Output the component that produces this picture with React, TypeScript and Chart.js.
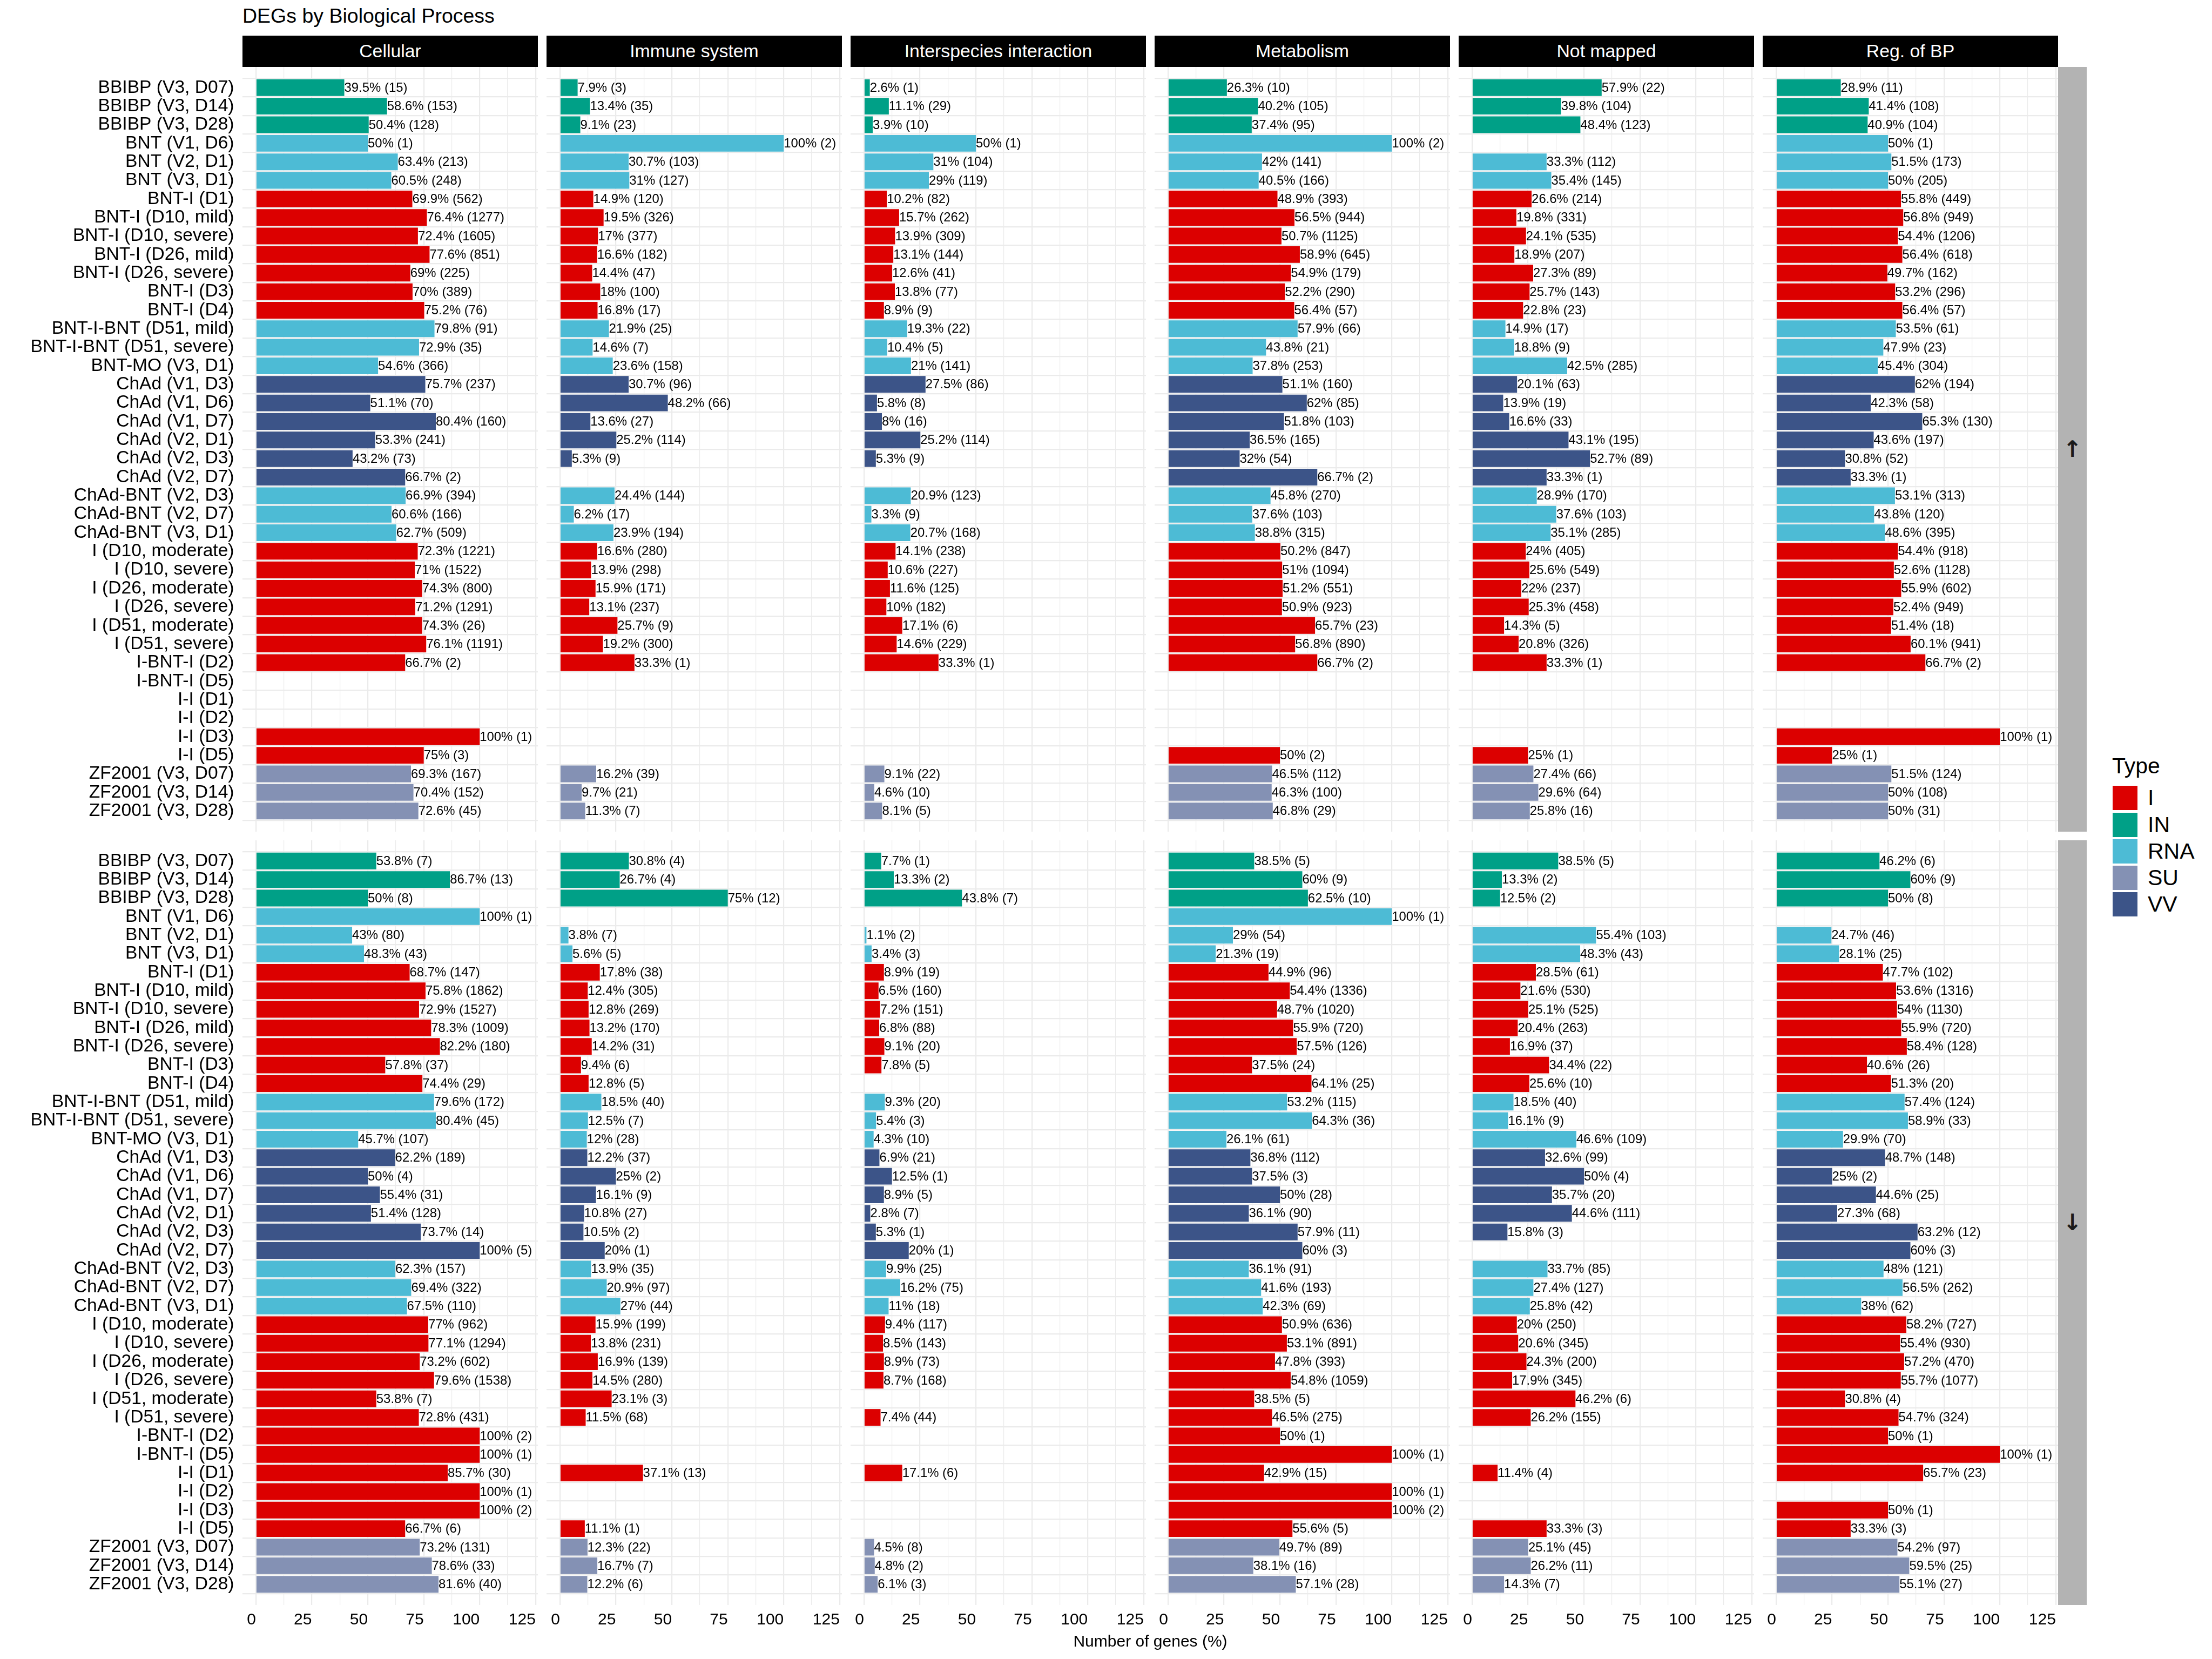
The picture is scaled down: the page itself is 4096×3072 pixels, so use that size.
import React, { useEffect, useRef } from "react";
import { Chart, registerables } from "chart.js";

Chart.register(...registerables);

const _ = null;

const categories = [
  "BBIBP (V3, D07)", "BBIBP (V3, D14)", "BBIBP (V3, D28)", "BNT (V1, D6)", "BNT (V2, D1)", "BNT (V3, D1)",
  "BNT-I (D1)", "BNT-I (D10, mild)", "BNT-I (D10, severe)", "BNT-I (D26, mild)", "BNT-I (D26, severe)",
  "BNT-I (D3)", "BNT-I (D4)", "BNT-I-BNT (D51, mild)", "BNT-I-BNT (D51, severe)", "BNT-MO (V3, D1)",
  "ChAd (V1, D3)", "ChAd (V1, D6)", "ChAd (V1, D7)", "ChAd (V2, D1)", "ChAd (V2, D3)", "ChAd (V2, D7)",
  "ChAd-BNT (V2, D3)", "ChAd-BNT (V2, D7)", "ChAd-BNT (V3, D1)", "I (D10, moderate)", "I (D10, severe)",
  "I (D26, moderate)", "I (D26, severe)", "I (D51, moderate)", "I (D51, severe)", "I-BNT-I (D2)",
  "I-BNT-I (D5)", "I-I (D1)", "I-I (D2)", "I-I (D3)", "I-I (D5)", "ZF2001 (V3, D07)", "ZF2001 (V3, D14)",
  "ZF2001 (V3, D28)",
];

const vaccineTypes = [
  "IN", "IN", "IN", "RNA", "RNA", "RNA",
  "I", "I", "I", "I", "I", "I", "I",
  "RNA", "RNA", "RNA",
  "VV", "VV", "VV", "VV", "VV", "VV",
  "RNA", "RNA", "RNA",
  "I", "I", "I", "I", "I", "I", "I", "I", "I", "I", "I", "I",
  "SU", "SU", "SU",
];

const typeNames = ["I", "IN", "RNA", "SU", "VV"];
const typeColors = ["#DC0000", "#00A087", "#4DBBD5", "#8491B4", "#3C5488"];

const processes = ["Cellular", "Immune system", "Interspecies interaction", "Metabolism", "Not mapped", "Reg. of BP"];
const directions = ["\u2191", "\u2193"];

const xTickValues = [0, 25, 50, 75, 100, 125];

// ---------- Up-regulated (↑) ----------
const upCellularPct = [39.5, 58.6, 50.4, 50, 63.4, 60.5, 69.9, 76.4, 72.4, 77.6, 69, 70, 75.2, 79.8, 72.9, 54.6, 75.7, 51.1, 80.4, 53.3, 43.2, 66.7, 66.9, 60.6, 62.7, 72.3, 71, 74.3, 71.2, 74.3, 76.1, 66.7, _, _, _, 100, 75, 69.3, 70.4, 72.6];
const upCellularN = [15, 153, 128, 1, 213, 248, 562, 1277, 1605, 851, 225, 389, 76, 91, 35, 366, 237, 70, 160, 241, 73, 2, 394, 166, 509, 1221, 1522, 800, 1291, 26, 1191, 2, _, _, _, 1, 3, 167, 152, 45];

const upImmunePct = [7.9, 13.4, 9.1, 100, 30.7, 31, 14.9, 19.5, 17, 16.6, 14.4, 18, 16.8, 21.9, 14.6, 23.6, 30.7, 48.2, 13.6, 25.2, 5.3, _, 24.4, 6.2, 23.9, 16.6, 13.9, 15.9, 13.1, 25.7, 19.2, 33.3, _, _, _, _, _, 16.2, 9.7, 11.3];
const upImmuneN = [3, 35, 23, 2, 103, 127, 120, 326, 377, 182, 47, 100, 17, 25, 7, 158, 96, 66, 27, 114, 9, _, 144, 17, 194, 280, 298, 171, 237, 9, 300, 1, _, _, _, _, _, 39, 21, 7];

const upInterPct = [2.6, 11.1, 3.9, 50, 31, 29, 10.2, 15.7, 13.9, 13.1, 12.6, 13.8, 8.9, 19.3, 10.4, 21, 27.5, 5.8, 8, 25.2, 5.3, _, 20.9, 3.3, 20.7, 14.1, 10.6, 11.6, 10, 17.1, 14.6, 33.3, _, _, _, _, _, 9.1, 4.6, 8.1];
const upInterN = [1, 29, 10, 1, 104, 119, 82, 262, 309, 144, 41, 77, 9, 22, 5, 141, 86, 8, 16, 114, 9, _, 123, 9, 168, 238, 227, 125, 182, 6, 229, 1, _, _, _, _, _, 22, 10, 5];

const upMetabPct = [26.3, 40.2, 37.4, 100, 42, 40.5, 48.9, 56.5, 50.7, 58.9, 54.9, 52.2, 56.4, 57.9, 43.8, 37.8, 51.1, 62, 51.8, 36.5, 32, 66.7, 45.8, 37.6, 38.8, 50.2, 51, 51.2, 50.9, 65.7, 56.8, 66.7, _, _, _, _, 50, 46.5, 46.3, 46.8];
const upMetabN = [10, 105, 95, 2, 141, 166, 393, 944, 1125, 645, 179, 290, 57, 66, 21, 253, 160, 85, 103, 165, 54, 2, 270, 103, 315, 847, 1094, 551, 923, 23, 890, 2, _, _, _, _, 2, 112, 100, 29];

const upNotMappedPct = [57.9, 39.8, 48.4, _, 33.3, 35.4, 26.6, 19.8, 24.1, 18.9, 27.3, 25.7, 22.8, 14.9, 18.8, 42.5, 20.1, 13.9, 16.6, 43.1, 52.7, 33.3, 28.9, 37.6, 35.1, 24, 25.6, 22, 25.3, 14.3, 20.8, 33.3, _, _, _, _, 25, 27.4, 29.6, 25.8];
const upNotMappedN = [22, 104, 123, _, 112, 145, 214, 331, 535, 207, 89, 143, 23, 17, 9, 285, 63, 19, 33, 195, 89, 1, 170, 103, 285, 405, 549, 237, 458, 5, 326, 1, _, _, _, _, 1, 66, 64, 16];

const upRegPct = [28.9, 41.4, 40.9, 50, 51.5, 50, 55.8, 56.8, 54.4, 56.4, 49.7, 53.2, 56.4, 53.5, 47.9, 45.4, 62, 42.3, 65.3, 43.6, 30.8, 33.3, 53.1, 43.8, 48.6, 54.4, 52.6, 55.9, 52.4, 51.4, 60.1, 66.7, _, _, _, 100, 25, 51.5, 50, 50];
const upRegN = [11, 108, 104, 1, 173, 205, 449, 949, 1206, 618, 162, 296, 57, 61, 23, 304, 194, 58, 130, 197, 52, 1, 313, 120, 395, 918, 1128, 602, 949, 18, 941, 2, _, _, _, 1, 1, 124, 108, 31];

// ---------- Down-regulated (↓) ----------
const downCellularPct = [53.8, 86.7, 50, 100, 43, 48.3, 68.7, 75.8, 72.9, 78.3, 82.2, 57.8, 74.4, 79.6, 80.4, 45.7, 62.2, 50, 55.4, 51.4, 73.7, 100, 62.3, 69.4, 67.5, 77, 77.1, 73.2, 79.6, 53.8, 72.8, 100, 100, 85.7, 100, 100, 66.7, 73.2, 78.6, 81.6];
const downCellularN = [7, 13, 8, 1, 80, 43, 147, 1862, 1527, 1009, 180, 37, 29, 172, 45, 107, 189, 4, 31, 128, 14, 5, 157, 322, 110, 962, 1294, 602, 1538, 7, 431, 2, 1, 30, 1, 2, 6, 131, 33, 40];

const downImmunePct = [30.8, 26.7, 75, _, 3.8, 5.6, 17.8, 12.4, 12.8, 13.2, 14.2, 9.4, 12.8, 18.5, 12.5, 12, 12.2, 25, 16.1, 10.8, 10.5, 20, 13.9, 20.9, 27, 15.9, 13.8, 16.9, 14.5, 23.1, 11.5, _, _, 37.1, _, _, 11.1, 12.3, 16.7, 12.2];
const downImmuneN = [4, 4, 12, _, 7, 5, 38, 305, 269, 170, 31, 6, 5, 40, 7, 28, 37, 2, 9, 27, 2, 1, 35, 97, 44, 199, 231, 139, 280, 3, 68, _, _, 13, _, _, 1, 22, 7, 6];

const downInterPct = [7.7, 13.3, 43.8, _, 1.1, 3.4, 8.9, 6.5, 7.2, 6.8, 9.1, 7.8, _, 9.3, 5.4, 4.3, 6.9, 12.5, 8.9, 2.8, 5.3, 20, 9.9, 16.2, 11, 9.4, 8.5, 8.9, 8.7, _, 7.4, _, _, 17.1, _, _, _, 4.5, 4.8, 6.1];
const downInterN = [1, 2, 7, _, 2, 3, 19, 160, 151, 88, 20, 5, _, 20, 3, 10, 21, 1, 5, 7, 1, 1, 25, 75, 18, 117, 143, 73, 168, _, 44, _, _, 6, _, _, _, 8, 2, 3];

const downMetabPct = [38.5, 60, 62.5, 100, 29, 21.3, 44.9, 54.4, 48.7, 55.9, 57.5, 37.5, 64.1, 53.2, 64.3, 26.1, 36.8, 37.5, 50, 36.1, 57.9, 60, 36.1, 41.6, 42.3, 50.9, 53.1, 47.8, 54.8, 38.5, 46.5, 50, 100, 42.9, 100, 100, 55.6, 49.7, 38.1, 57.1];
const downMetabN = [5, 9, 10, 1, 54, 19, 96, 1336, 1020, 720, 126, 24, 25, 115, 36, 61, 112, 3, 28, 90, 11, 3, 91, 193, 69, 636, 891, 393, 1059, 5, 275, 1, 1, 15, 1, 2, 5, 89, 16, 28];

const downNotMappedPct = [38.5, 13.3, 12.5, _, 55.4, 48.3, 28.5, 21.6, 25.1, 20.4, 16.9, 34.4, 25.6, 18.5, 16.1, 46.6, 32.6, 50, 35.7, 44.6, 15.8, _, 33.7, 27.4, 25.8, 20, 20.6, 24.3, 17.9, 46.2, 26.2, _, _, 11.4, _, _, 33.3, 25.1, 26.2, 14.3];
const downNotMappedN = [5, 2, 2, _, 103, 43, 61, 530, 525, 263, 37, 22, 10, 40, 9, 109, 99, 4, 20, 111, 3, _, 85, 127, 42, 250, 345, 200, 345, 6, 155, _, _, 4, _, _, 3, 45, 11, 7];

const downRegPct = [46.2, 60, 50, _, 24.7, 28.1, 47.7, 53.6, 54, 55.9, 58.4, 40.6, 51.3, 57.4, 58.9, 29.9, 48.7, 25, 44.6, 27.3, 63.2, 60, 48, 56.5, 38, 58.2, 55.4, 57.2, 55.7, 30.8, 54.7, 50, 100, 65.7, _, 50, 33.3, 54.2, 59.5, 55.1];
const downRegN = [6, 9, 8, _, 46, 25, 102, 1316, 1130, 720, 128, 26, 20, 124, 33, 70, 148, 2, 25, 68, 12, 3, 121, 262, 62, 727, 930, 470, 1077, 4, 324, 1, 1, 23, _, 1, 3, 97, 25, 27];

const PCT = [
  [upCellularPct, upImmunePct, upInterPct, upMetabPct, upNotMappedPct, upRegPct],
  [downCellularPct, downImmunePct, downInterPct, downMetabPct, downNotMappedPct, downRegPct],
];
const CNT = [
  [upCellularN, upImmuneN, upInterN, upMetabN, upNotMappedN, upRegN],
  [downCellularN, downImmuneN, downInterN, downMetabN, downNotMappedN, downRegN],
];

// ---------- layout (px in the 4096x3072 window) ----------
const FONT = '"Liberation Sans", Arial, Helvetica, sans-serif';
const PANEL_X = [449, 1012, 1575, 2138, 2701, 3264];
const PANEL_W = 547;
const ROW_Y = [124, 1556];
const PANEL_H = 1416;
const STRIP_TOP = 66;
const STRIP_H = 58;
const SIDE_X = 3811;
const SIDE_W = 53;
const XAXIS_H = 64;
const GRID = "#EBEBEB";

const FS_TITLE = 37.5;
const FS_STRIP = 33.8;
const FS_YLAB = 33.6;
const FS_XTICK = 30;
const FS_XTITLE = 30;
const FS_BAR = 23.9;
const FS_LEGEND = 41;

Chart.defaults.font.family = FONT;
Chart.defaults.color = "#000";

function PanelChart({ row, col }: { row: number; col: number }) {
  const ref = useRef<HTMLCanvasElement | null>(null);
  const isLeft = col === 0;
  const isBottom = row === 1;
  const left = isLeft ? 0 : PANEL_X[col];
  const width = isLeft ? PANEL_X[0] + PANEL_W : PANEL_W;
  const height = PANEL_H + (isBottom ? XAXIS_H : 0);

  useEffect(() => {
    const pct = PCT[row][col];
    const cnt = CNT[row][col];
    const pts: { x: number; y: number }[] = [];
    const colors: string[] = [];
    const labels: string[] = [];
    categories.forEach((_c, i) => {
      const v = pct[i];
      if (v === null || v === undefined) return;
      pts.push({ x: v as number, y: i });
      colors.push(typeColors[typeNames.indexOf(vaccineTypes[i])]);
      labels.push(`${v}% (${cnt[i]})`);
    });

    const barLabels = {
      id: "barLabels",
      afterDatasetsDraw(chart: any) {
        const ctx = chart.ctx;
        const meta = chart.getDatasetMeta(0);
        ctx.save();
        ctx.font = `${FS_BAR}px ${FONT}`;
        ctx.fillStyle = "#000";
        ctx.textAlign = "left";
        ctx.textBaseline = "middle";
        meta.data.forEach((el: any, i: number) => {
          ctx.fillText(labels[i], el.x, el.y + 1);
        });
        ctx.restore();
      },
    };

    const chart = new Chart(ref.current as HTMLCanvasElement, {
      type: "bar",
      data: {
        datasets: [
          {
            data: pts as any,
            backgroundColor: colors,
            borderWidth: 0,
            barPercentage: 0.9,
            categoryPercentage: 1,
          },
        ],
      },
      options: {
        indexAxis: "y",
        responsive: false,
        maintainAspectRatio: false,
        animation: false,
        events: [],
        layout: { padding: 0 },
        plugins: {
          legend: { display: false },
          tooltip: { enabled: false },
          title: { display: false },
        },
        scales: {
          x: {
            type: "linear",
            position: "bottom",
            min: -6,
            max: 126,
            bounds: "ticks",
            border: { display: false },
            grid: {
              color: GRID,
              drawTicks: false,
              lineWidth: (ctx: any) =>
                ctx.tick && xTickValues.includes(ctx.tick.value) ? 2.2 : 1.2,
            },
            ticks: {
              display: isBottom,
              stepSize: 12.5,
              autoSkip: false,
              includeBounds: false,
              maxRotation: 0,
              minRotation: 0,
              align: "end",
              padding: 10,
              color: "#000",
              font: { size: FS_XTICK, family: FONT },
              callback: (v: any) => (xTickValues.includes(Number(v)) ? String(v) : ""),
            },
            afterFit: (s: any) => {
              s.height = isBottom ? XAXIS_H : 0;
              s.paddingLeft = 0;
              s.paddingRight = 0;
            },
          },
          y: {
            type: "linear",
            position: "left",
            min: -0.6,
            max: 39.6,
            reverse: true,
            border: { display: false },
            grid: { color: GRID, drawTicks: false, lineWidth: 2.2 },
            ticks: {
              display: isLeft,
              stepSize: 1,
              autoSkip: false,
              includeBounds: false,
              padding: 15.5,
              color: "#000",
              font: { size: FS_YLAB, family: FONT },
              callback: (v: any) => {
                const i = Number(v);
                return Number.isInteger(i) && categories[i] !== undefined ? categories[i] : "";
              },
            },
            afterFit: (s: any) => {
              s.width = isLeft ? PANEL_X[0] : 0;
              s.paddingTop = 0;
              s.paddingBottom = 0;
            },
          },
        },
      } as any,
      plugins: [barLabels],
    });
    return () => chart.destroy();
  }, [row, col]);

  return (
    <canvas
      ref={ref}
      width={width}
      height={height}
      style={{ position: "absolute", left, top: ROW_Y[row], width, height, display: "block" }}
    />
  );
}

const textBase: React.CSSProperties = {
  position: "absolute",
  fontFamily: FONT,
  lineHeight: 1,
  whiteSpace: "nowrap",
  color: "#000",
};

export default function App() {
  const legendTops = [1455, 1505, 1554, 1603, 1652];
  return (
    <div
      style={{
        position: "fixed",
        left: 0,
        top: 0,
        width: 4096,
        height: 3072,
        background: "#fff",
        overflow: "hidden",
      }}
    >
      {/* title */}
      <div style={{ ...textBase, left: 449, top: 42.3 - 0.8465 * FS_TITLE, fontSize: FS_TITLE }}>
        DEGs by Biological Process
      </div>

      {/* strips on top */}
      {processes.map((p, c) => (
        <div
          key={p}
          style={{
            position: "absolute",
            left: PANEL_X[c],
            top: STRIP_TOP,
            width: PANEL_W,
            height: STRIP_H,
            background: "#000",
            display: "flex",
            alignItems: "center",
            justifyContent: "center",
            color: "#fff",
            fontFamily: FONT,
            fontSize: FS_STRIP,
            lineHeight: 1,
            whiteSpace: "nowrap",
          }}
        >
          {p}
        </div>
      ))}

      {/* side strips */}
      {directions.map((d, r) => (
        <div
          key={d}
          style={{
            position: "absolute",
            left: SIDE_X,
            top: ROW_Y[r],
            width: SIDE_W,
            height: PANEL_H,
            background: "#B3B3B3",
            display: "flex",
            alignItems: "center",
            justifyContent: "center",
            color: "#1A1A1A",
            fontFamily: '"DejaVu Sans", sans-serif',
            fontSize: 42,
            fontWeight: "bold",
            lineHeight: 1,
          }}
        >
          {d}
        </div>
      ))}

      {/* panels */}
      {[0, 1].map((r) =>
        processes.map((_p, c) => <PanelChart key={`${r}-${c}`} row={r} col={c} />)
      )}

      {/* x axis title */}
      <div
        style={{
          ...textBase,
          left: 2130,
          top: 3049 - 0.8465 * FS_XTITLE,
          fontSize: FS_XTITLE,
          transform: "translateX(-50%)",
        }}
      >
        Number of genes (%)
      </div>

      {/* legend */}
      <div style={{ ...textBase, left: 3911, top: 1433 - 0.8465 * FS_LEGEND, fontSize: FS_LEGEND }}>Type</div>
      {typeNames.map((t, i) => (
        <React.Fragment key={t}>
          <div
            style={{
              position: "absolute",
              left: 3912,
              top: legendTops[i],
              width: 46,
              height: 45,
              background: typeColors[i],
            }}
          />
          <div
            style={{
              ...textBase,
              left: 3977,
              top: legendTops[i] + 22.5 - 0.4885 * FS_LEGEND,
              fontSize: FS_LEGEND,
            }}
          >
            {t}
          </div>
        </React.Fragment>
      ))}
    </div>
  );
}
